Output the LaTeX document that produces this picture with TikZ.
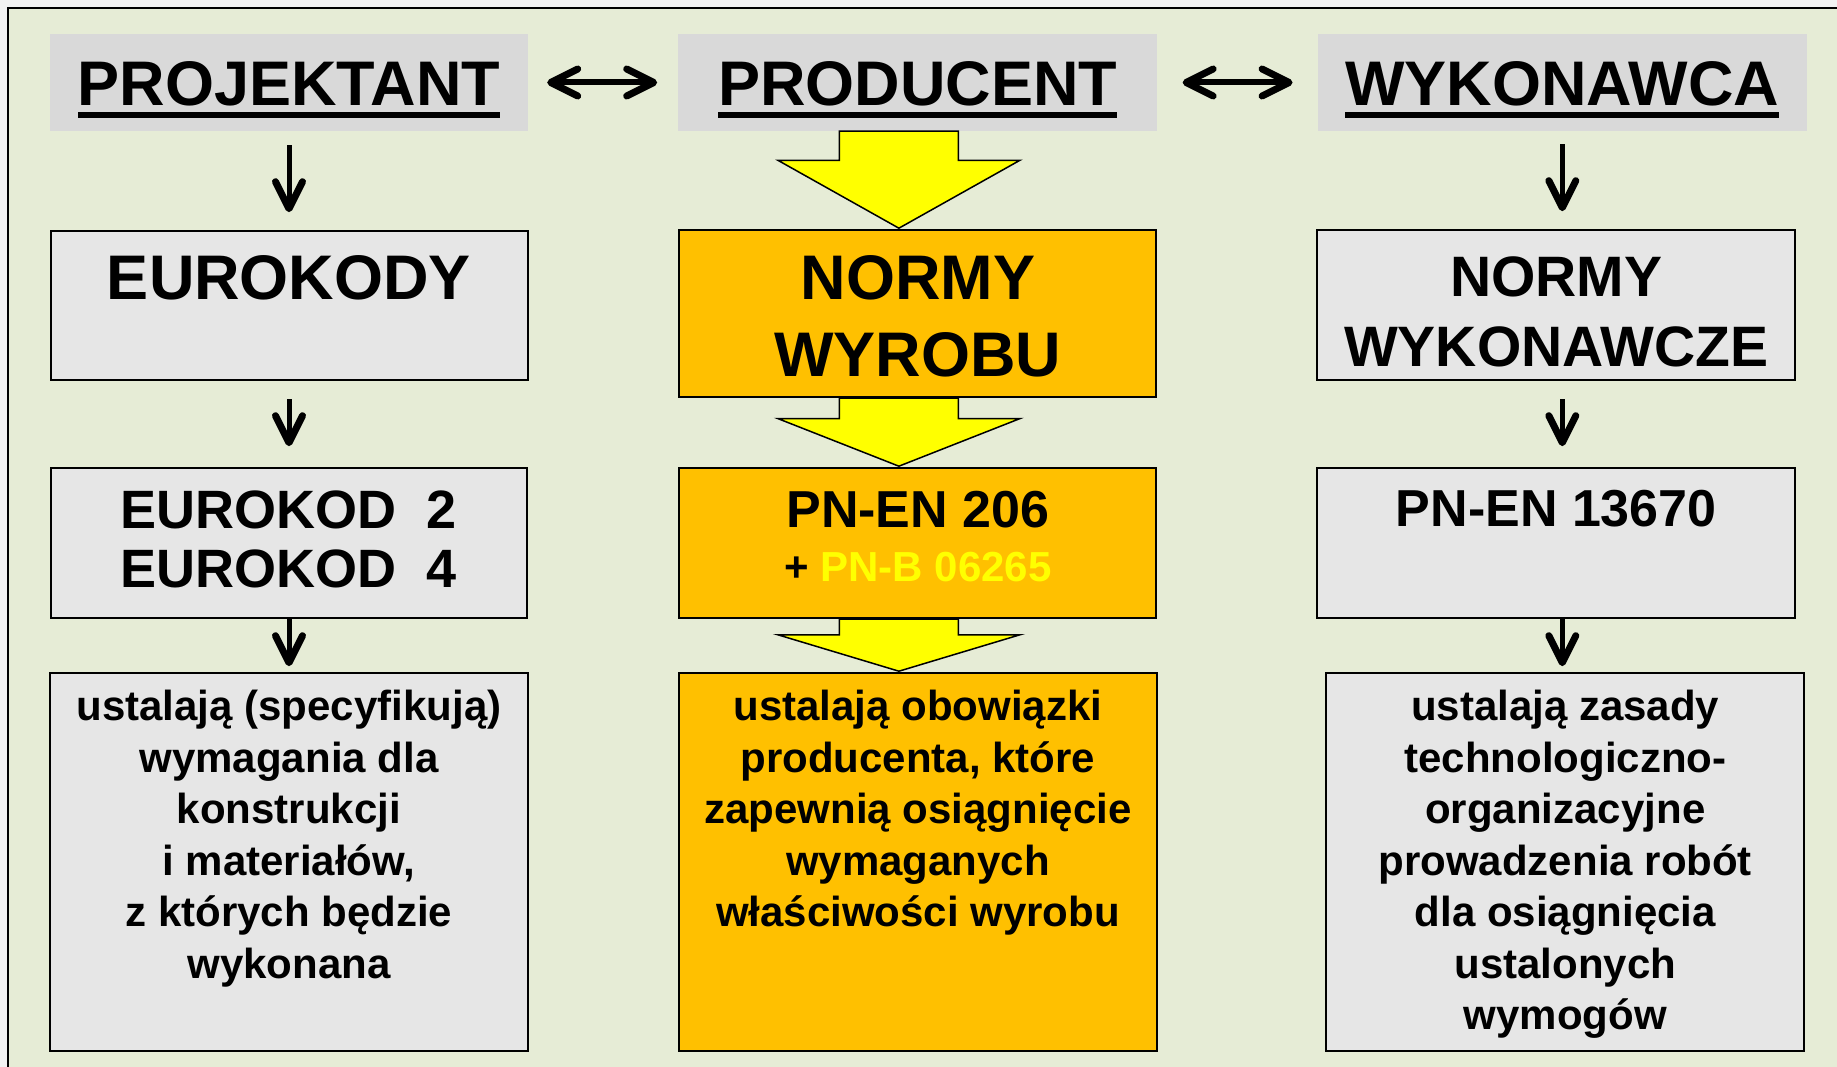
\documentclass[tikz,border=0pt]{standalone}
\usepackage{fontspec}
\setmainfont{Liberation Sans}
\usetikzlibrary{positioning}
\usetikzlibrary{arrows.meta}
\usetikzlibrary{calc}
\definecolor{outergray}{HTML}{F2F2F2}
\definecolor{slidegreen}{HTML}{E6ECD6}
\definecolor{headgray}{HTML}{D9D9D9}
\definecolor{boxgray}{HTML}{E6E6E6}
\definecolor{prodorange}{HTML}{FFC000}
\definecolor{arrowyellow}{HTML}{FFFF00}
\newcommand{\ulhead}[1]{\setbox0=\hbox{#1}\rlap{\rule[-12pt]{\wd0}{6pt}}\box0}
\tikzset{%
	% Specifications for style of nodes:
	base/.style = {rectangle, draw=black, line width=2pt, inner sep=0pt},
	headbox/.style = {rectangle, fill=headgray, inner sep=0pt, minimum height=97pt,
		text height=47pt, text depth=0pt, font=\fontsize{63}{70}\selectfont\bfseries},
	graybox/.style = {base, fill=boxgray},
	orangebox/.style = {base, fill=prodorange},
	boxtext/.style = {inner sep=0pt, align=center},
	lowtext/.style = {boxtext, font=\fontsize{42}{51.5}\selectfont\bfseries},
	barb/.tip = {Straight Barb[length=27pt, width=27pt, line width=7pt, round]},
	thinarrow/.style = {line width=5pt, -barb},
	twoway/.style = {line width=6pt, barb-barb},
	yarrow/.style = {fill=arrowyellow, draw=black, line width=1.5pt, line join=miter}
}
\begin{document}
\begin{tikzpicture}[x=1pt, y=-1pt]
	\useasboundingbox (0,0) rectangle (1837,1067);
	\fill[outergray] (0,0) rectangle (1837,1067);
	\draw[fill=slidegreen, line width=2.5pt] (8,8) rectangle (1850,1080);
	% headers
	\node (projHead) [headbox, minimum width=478pt] at (289,82.5) {\ulhead{PROJEKTANT}};
	\node (prodHead) [headbox, minimum width=479pt, right=150pt of projHead] {\ulhead{PRODUCENT}};
	\node (wykHead) [headbox, minimum width=489pt, right=160pt of prodHead] {\ulhead{WYKONAWCA}};
	% left column
	\node (euroKody) [graybox, minimum width=477pt, minimum height=149pt, below=99pt of projHead] {};
	\node (euroKod24) [graybox, minimum width=476pt, minimum height=150pt, below=86pt of euroKody] {};
	\node (specL) [graybox, minimum width=478pt, minimum height=378pt, below=53pt of euroKod24] {};
	% middle column
	\node (normWyr) [orangebox, minimum width=477pt, minimum height=167pt, below=98pt of prodHead] {};
	\node (pnEn206) [orangebox, minimum width=477pt, minimum height=150pt, below=69pt of normWyr] {};
	\node (dutyC) [orangebox, minimum width=478pt, minimum height=378pt, below=53pt of pnEn206] {};
	% right column
	\node (normWyk) [graybox, minimum width=478pt, minimum height=150pt, below=98pt of wykHead, xshift=-6pt] {};
	\node (pnEn13670) [graybox, minimum width=478pt, minimum height=150pt, below=86pt of normWyk] {};
	\node (rulesR) [graybox, minimum width=478pt, minimum height=378pt, below=53pt of pnEn13670, xshift=9pt] {};
	% texts
	\node (euroKodyTxt) [boxtext, font=\fontsize{63}{77}\selectfont\bfseries, below=25pt of euroKody.north] {EUROKODY};
	\node (euroKod24Txt) [boxtext, font=\fontsize{54}{59}\selectfont\bfseries, below=23pt of euroKod24.north] {EUROKOD\ \ 2\\EUROKOD\ \ 4};
	\node (specLTxt) [lowtext, below=18pt of specL.north] {ustalają (specyfikują)\\wymagania dla\\konstrukcji\\i materiałów,\\z których będzie\\wykonana};
	\node (normWyrTxt) [boxtext, font=\fontsize{63}{77}\selectfont\bfseries, below=26pt of normWyr.north] {NORMY\\WYROBU};
	\node (pnEn206Txt) [boxtext, font=\fontsize{52}{54}\selectfont\bfseries, below=24pt of pnEn206.north] {PN-EN 206\\{\fontsize{42}{54}\selectfont + \textcolor{arrowyellow}{PN-B 06265}}};
	\node (dutyCTxt) [lowtext, below=18pt of dutyC.north] {ustalają obowiązki\\producenta, które\\zapewnią osiągnięcie\\wymaganych\\właściwości wyrobu};
	\node (normWykTxt) [boxtext, font=\fontsize{57}{70}\selectfont\bfseries, below=27pt of normWyk.north] {NORMY\\WYKONAWCZE};
	\node (pnEn13670Txt) [boxtext, font=\fontsize{52}{54}\selectfont\bfseries, below=23pt of pnEn13670.north] {PN-EN 13670};
	\node (rulesRTxt) [lowtext, below=18pt of rulesR.north] {ustalają zasady\\technologiczno-\\organizacyjne\\prowadzenia robót\\dla osiągnięcia\\ustalonych\\wymogów};
	% arrows between headers
	\draw[twoway, shorten <=19pt, shorten >=21pt] (projHead.east) -- (projHead.east -| prodHead.west);
	\draw[twoway, shorten <=25pt, shorten >=25pt] (prodHead.east) -- (prodHead.east -| wykHead.west);
	% thin arrows, left and right
	\draw[thinarrow, shorten <=14pt, shorten >=18pt] (projHead.south) -- (euroKody.north);
	\draw[thinarrow, shorten <=18pt, shorten >=21pt] (euroKody.south) -- (euroKod24.north);
	\draw[thinarrow, shorten >=6pt] (euroKod24.south) -- (specL.north);
	\draw[thinarrow, shorten <=13pt, shorten >=18pt] (wykHead.south) -- (wykHead.south |- normWyk.north);
	\draw[thinarrow, shorten <=18pt, shorten >=21pt] (normWyk.south -| wykHead.south) -- (pnEn13670.north -| wykHead.south);
	\draw[thinarrow, shorten >=6pt] (pnEn13670.south -| wykHead.south) -- (rulesR.north -| wykHead.south);
	% yellow block arrows
	\foreach \src/\dst in {prodHead/normWyr, normWyr/pnEn206, pnEn206/dutyC}{
		\coordinate (top) at ([xshift=-19pt]\src.south);
		\coordinate (tip) at ([yshift=1pt]top |- \dst.north);
		\draw[yarrow] ($(top)+(-59.5,0)$) -- ($(top)+(59.5,0)$) -- ($(top)!0.3!(tip)+(59.5,0)$)
			-- ($(top)!0.3!(tip)+(121,0)$) -- (tip) -- ($(top)!0.3!(tip)+(-121,0)$)
			-- ($(top)!0.3!(tip)+(-59.5,0)$) -- cycle;
	}
\end{tikzpicture}
\end{document}
